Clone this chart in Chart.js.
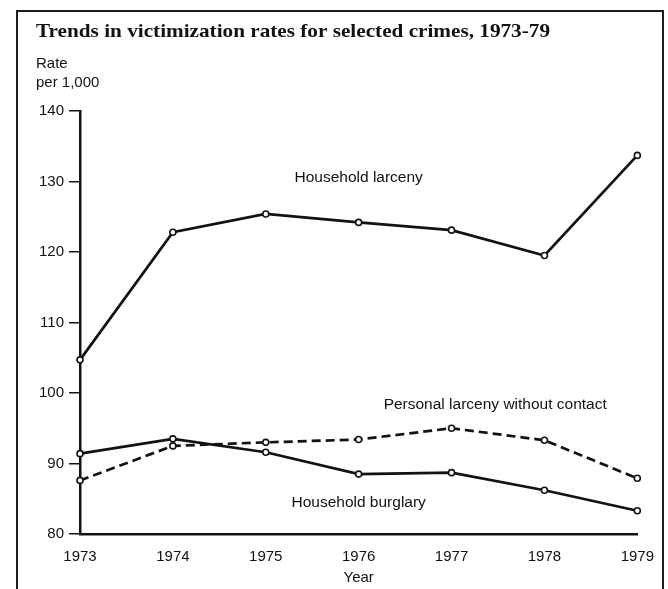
<!DOCTYPE html>
<html>
<head>
<meta charset="utf-8">
<style>
html,body{margin:0;padding:0;background:#fff;overflow:hidden;width:668px;height:589px}
#wrap{position:relative;width:668px;height:589px}
#frame{position:absolute;left:16px;top:10px;width:648px;height:640px;border:2px solid #1e1e1e;box-sizing:border-box;pointer-events:none}
canvas{position:absolute;left:0;top:0}
</style>
<script src="https://cdn.jsdelivr.net/npm/chart.js@4/dist/chart.umd.min.js"></script>
</head>
<body>
<div id="wrap">
<canvas id="c" width="668" height="589"></canvas>
<div id="frame"></div>
</div>
<script>
// ---- data ----
const years = ['1973', '1974', '1975', '1976', '1977', '1978', '1979'];
const householdLarceny = [104.7, 122.8, 125.4, 124.2, 123.1, 119.5, 133.7];
const personalLarcenyNoContact = [87.6, 92.5, 93.0, 93.4, 95.0, 93.3, 87.9];
const householdBurglary = [91.4, 93.5, 91.6, 88.5, 88.7, 86.2, 83.3];
const yTickValues = [80, 90, 100, 110, 120, 130, 140];

const titleText = 'Trends in victimization rates for selected crimes, 1973-79';
const yUnitLines = ['Rate', 'per 1,000'];
const xAxisTitle = 'Year';
const seriesNames = ['Household larceny', 'Personal larceny without contact', 'Household burglary'];

// label anchors (data space: category index, value)
const labelAnchors = [
  { name: seriesNames[0], at: [3, 130.5] },
  { name: seriesNames[1], at: [4.47, 98.4] },
  { name: seriesNames[2], at: [3, 84.5] }
];

const INK = '#121212';
const SANS = '"Liberation Sans", Arial, Helvetica, sans-serif';

function lineStyle(dash) {
  return {
    borderColor: INK, borderWidth: 2.7, borderDash: dash,
    pointRadius: 3, pointBackgroundColor: '#fff', pointBorderColor: INK,
    pointBorderWidth: 1.6, tension: 0, clip: false, fill: false
  };
}

const textPlugin = {
  id: 'texts',
  afterDraw(chart) {
    const ctx = chart.ctx;
    const xs = chart.scales.x, ys = chart.scales.y, ca = chart.chartArea;
    ctx.save();
    ctx.fillStyle = INK;
    ctx.textAlign = 'left';
    ctx.textBaseline = 'alphabetic';
    // title: serif bold, widened to the reference's text width
    ctx.font = 'bold 19.5px "Liberation Serif", "Times New Roman", serif';
    const tw = ctx.measureText(titleText).width;
    const targetW = 514;
    ctx.save();
    ctx.translate(36, 37);
    ctx.scale(targetW / tw, 1);
    ctx.fillText(titleText, 0, 0);
    ctx.restore();
    ctx.font = '15px ' + SANS;
    ctx.fillText(yUnitLines[0], 36, 68);
    ctx.fillText(yUnitLines[1], 36, 87);
    ctx.textAlign = 'center';
    ctx.fillText(xAxisTitle, (ca.left + ca.right) / 2, 582);
    ctx.textBaseline = 'middle';
    ctx.font = '15.5px ' + SANS;
    labelAnchors.forEach(a => {
      ctx.fillText(a.name, xs.getPixelForValue(a.at[0]), ys.getPixelForValue(a.at[1]));
    });
    ctx.restore();
  }
};

new Chart(document.getElementById('c'), {
  type: 'line',
  data: {
    labels: years,
    datasets: [
      Object.assign({ label: seriesNames[0], data: householdLarceny }, lineStyle([])),
      Object.assign({ label: seriesNames[1], data: personalLarcenyNoContact }, lineStyle([9, 5])),
      Object.assign({ label: seriesNames[2], data: householdBurglary }, lineStyle([]))
    ]
  },
  options: {
    responsive: false,
    animation: false,
    devicePixelRatio: 1,
    layout: { padding: { top: 111, right: 25, left: 0, bottom: 0 } },
    plugins: { legend: { display: false }, tooltip: { enabled: false }, title: { display: false } },
    scales: {
      x: {
        type: 'category',
        offset: false,
        grid: { display: true, drawOnChartArea: false, drawTicks: false },
        border: { display: true, color: INK, width: 2.5 },
        ticks: { color: INK, font: { family: SANS, size: 15 }, padding: 14, maxRotation: 0, autoSkip: false },
        afterFit(s) { s.height = 55; }
      },
      y: {
        min: yTickValues[0],
        max: yTickValues[yTickValues.length - 1],
        afterBuildTicks(s) { s.ticks = yTickValues.map(v => ({ value: v })); },
        grid: { display: true, drawOnChartArea: false, drawTicks: true, tickLength: 11, color: INK, lineWidth: 1.5 },
        border: { display: true, color: INK, width: 2.5 },
        ticks: { color: INK, font: { family: SANS, size: 15 }, padding: 5 },
        afterFit(s) { s.width = 80; }
      }
    }
  },
  plugins: [textPlugin]
});
</script>
</body>
</html>
